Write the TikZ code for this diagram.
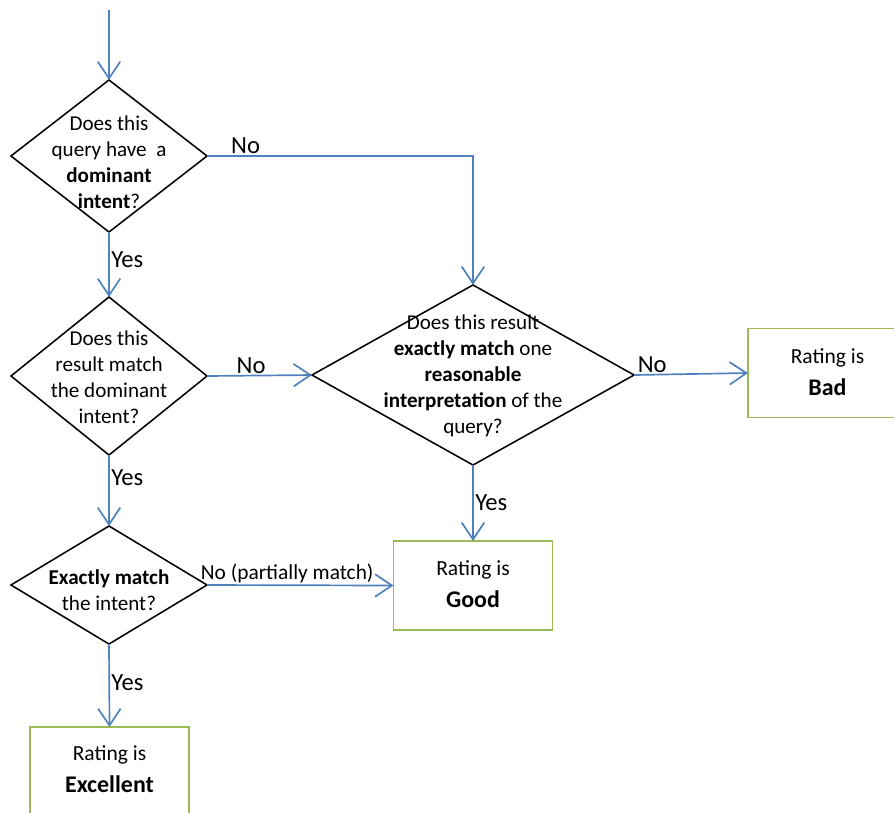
\documentclass[tikz,border=0pt]{standalone}
\usepackage{fontspec}
\setmainfont{Carlito}
\usetikzlibrary{shapes.geometric}
\usetikzlibrary{arrows.meta}

\definecolor{flowblue}{RGB}{79,129,189}
\definecolor{boxgreen}{RGB}{155,187,89}

\tikzset{
  decision/.style={diamond, draw=black, line width=1.1pt, inner sep=0pt, outer sep=0pt},
  rating/.style={rectangle, draw=boxgreen, line width=1.1pt, inner sep=0pt, outer sep=0pt,
    minimum width=3.975cm, minimum height=2.225cm},
  qtext/.style={align=center, font=\fontsize{15}{18.5}\selectfont},
  rtext/.style={align=center, font=\fontsize{15.3}{22.8}\selectfont},
  flow/.style={draw=flowblue, line width=1.2pt, -{Straight Barb[length=12pt,width=16pt]}},
  lbl/.style={font=\fontsize{17.5}{20}\selectfont, inner sep=1pt},
}

\begin{document}
\begin{tikzpicture}[x=0.025cm, y=-0.025cm]
  \useasboundingbox (0, 0) rectangle (894, 812);

  % questions
  \node[decision, minimum width=4.9cm, minimum height=3.8cm] (q1) at (109, 156) {};
  \node[qtext] (q1t) at (109, 162) {Does this\\query have~ a\\\textbf{dominant}\\\textbf{intent}?};

  \node[decision, minimum width=4.9cm, minimum height=3.95cm] (q2) at (109, 376) {};
  \node[qtext] (q2t) at (109, 377) {Does this\\result match\\the dominant\\intent?};

  \node[decision, minimum width=8.05cm, minimum height=4.5cm] (q3) at (473, 375) {};
  \node[qtext] (q3t) at (473, 376) {Does this result\\\textbf{exactly match} one\\\textbf{reasonable}\\\textbf{interpretation} of the\\query?};

  \node[decision, minimum width=4.9cm, minimum height=2.95cm] (q4) at (109, 585) {};
  \node[qtext] (q4t) at (109, 590) {\textbf{Exactly match}\\the intent?};

  % ratings
  \node[rating] (bad) at (827.5, 373) {};
  \node[rtext] (badt) at (827.5, 372) {Rating is\\\fontsize{17}{22.8}\selectfont\bfseries Bad};

  \node[rating] (good) at (473, 585.5) {};
  \node[rtext] (goodt) at (473, 584) {Rating is\\\fontsize{17}{22.8}\selectfont\bfseries Good};

  \node[rating] (excellent) at (109.5, 771.5) {};
  \node[rtext] (excellentt) at (109.5, 769) {Rating is\\\fontsize{17}{22.8}\selectfont\bfseries Excellent};

  % connectors
  \coordinate (start) at (109, 10);
  \draw[flow] (start) -- (q1.north);

  \draw[flow] (q1.east) -- node[lbl, above, pos=0.145] {No} (q1.east -| q3.north) -- (q3.north);
  \draw[flow] (q1.south) -- node[lbl, right, pos=0.43] {Yes} (q2.north);

  \draw[flow] (q2.east) -- node[lbl, above, pos=0.42] {No} (q3.west);
  \draw[flow] (q2.south) -- node[lbl, right, pos=0.32] {Yes} (q4.north);

  \draw[flow] (q3.east) -- node[lbl, above, pos=0.16] {No} (bad.west);
  \draw[flow] (q3.south) -- node[lbl, right, pos=0.5] {Yes} (good.north);

  \draw[flow] (q4.east) -- node[lbl, above, pos=0.43, font=\fontsize{15.2}{18}\selectfont] {No (partially match)} (good.west);
  \draw[flow] (q4.south) -- node[lbl, right, pos=0.47] {Yes} (excellent.north);
\end{tikzpicture}
\end{document}
